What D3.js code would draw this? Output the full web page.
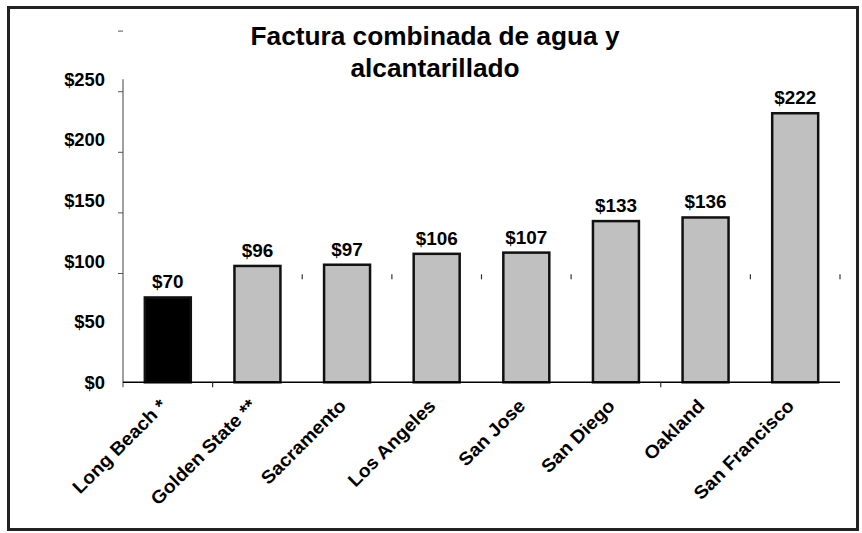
<!DOCTYPE html>
<html>
<head>
<meta charset="utf-8">
<script src="https://cdn.jsdelivr.net/npm/d3@7"></script>
<style>
  body { margin: 0; background: #fff; }
  svg { display: block; }
  text { font-family: "Liberation Sans", Arial, sans-serif; font-weight: bold; fill: #000; }
</style>
</head>
<body>
<svg id="chart"></svg>
<script>
// data
var cities = ["Long Beach *", "Golden State **", "Sacramento", "Los Angeles",
              "San Jose", "San Diego", "Oakland", "San Francisco"];
var bills = [70, 96, 97, 106, 107, 133, 136, 222];
var yTicks = [0, 50, 100, 150, 200, 250];
var titleLines = ["Factura combinada de agua y", "alcantarillado"];

var W = 862, H = 533;
var plotLeft = 123, plotRight = 840, plotTop = 79.3, base = 382.3;
var stretch = 1.05; // the original picture is a little wider than Arial

var svg = d3.select("#chart").attr("width", W).attr("height", H);

// frame
svg.append("rect")
    .attr("x", 8.5).attr("y", 7.5)
    .attr("width", 849).attr("height", 522)
    .attr("fill", "none")
    .attr("stroke", "#222")
    .attr("stroke-width", 3);

var x = d3.scaleBand()
    .domain(cities)
    .range([plotLeft, plotRight])
    .paddingInner(0.487)
    .paddingOuter(0.2435);

var y = d3.scaleLinear()
    .domain([0, 250])
    .range([base, plotTop]);

function label(g, px, py, size, anchor, txt, rot) {
    return g.append("text")
        .attr("transform", "translate(" + px + "," + py + ")" +
              (rot ? " rotate(" + rot + ")" : "") + " scale(" + stretch + ",1)")
        .attr("text-anchor", anchor)
        .style("font-size", size + "px")
        .text(txt);
}

// title
titleLines.forEach(function(t, i) {
    label(svg, 435, 45 + i * 32, 25, "middle", t);
});

// y axis line
svg.append("line")
    .attr("x1", plotLeft).attr("x2", plotLeft)
    .attr("y1", plotTop).attr("y2", base + 5)
    .attr("stroke", "#808080")
    .attr("stroke-width", 1.5);

// y tick marks (they sit a bit below their labels in the original)
var tickDrop = 12.4;
svg.selectAll(".ytick")
    .data([100, 150, 200, 250, 300])
    .enter().append("line")
    .attr("class", "ytick")
    .attr("x1", plotLeft - 5).attr("x2", plotLeft)
    .attr("y1", function(d) { return y(d) + tickDrop; })
    .attr("y2", function(d) { return y(d) + tickDrop; })
    .attr("stroke", "#555")
    .attr("stroke-width", 1);

// y labels
var yl = svg.append("g");
yTicks.forEach(function(v) {
    label(yl, 105, y(v) + 6.5, 17.5, "end", "$" + v);
});

// bars
svg.selectAll(".bar")
    .data(bills)
    .enter().append("rect")
    .attr("class", "bar")
    .attr("x", function(d, i) { return x(cities[i]); })
    .attr("y", function(d) { return y(d); })
    .attr("width", x.bandwidth())
    .attr("height", function(d) { return base - y(d); })
    .attr("fill", function(d, i) { return i === 0 ? "#000" : "#c0c0c0"; })
    .attr("stroke", "#111")
    .attr("stroke-width", 2.5);

// x axis line
svg.append("line")
    .attr("x1", plotLeft).attr("x2", plotRight)
    .attr("y1", base).attr("y2", base)
    .attr("stroke", "#000")
    .attr("stroke-width", 1.5);

// category boundary ticks; most of them are drawn up in the plot in the original
var lowTicks = [1, 6];
var step = x.step();
svg.selectAll(".xtick")
    .data(d3.range(1, cities.length + 1))
    .enter().append("line")
    .attr("class", "xtick")
    .attr("x1", function(k) { return plotLeft + k * step; })
    .attr("x2", function(k) { return plotLeft + k * step; })
    .attr("y1", function(k) { return lowTicks.indexOf(k) >= 0 ? base : base - 108; })
    .attr("y2", function(k) { return lowTicks.indexOf(k) >= 0 ? base + 5 : base - 103; })
    .attr("stroke", "#333")
    .attr("stroke-width", 1.2);

// value labels
var vl = svg.append("g");
bills.forEach(function(v, i) {
    label(vl, x(cities[i]) + x.bandwidth() / 2, y(v) - 9, 18, "middle", "$" + v);
});

// category labels
var cl = svg.append("g");
cities.forEach(function(c, i) {
    label(cl, x(c) + x.bandwidth() / 2, 407, 18.5, "end", c, -45);
});
</script>
</body>
</html>
